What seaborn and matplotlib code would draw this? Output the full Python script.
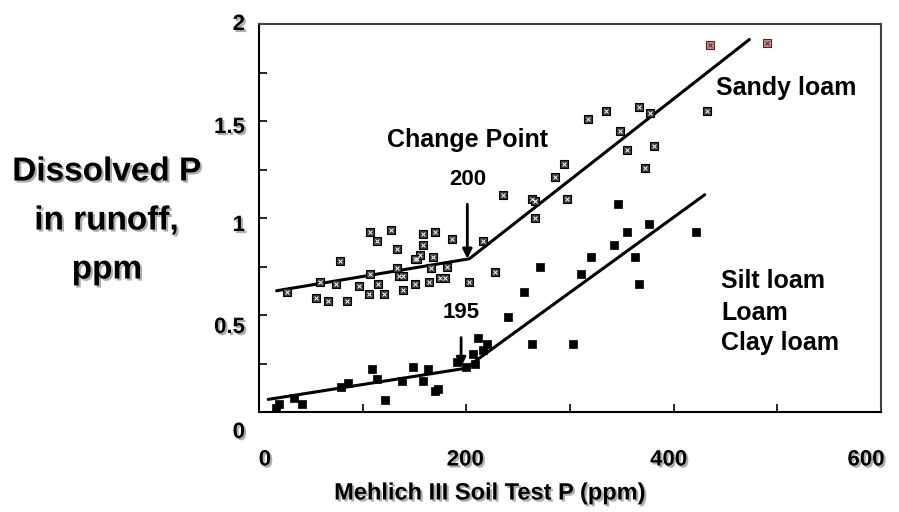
import matplotlib
matplotlib.use("Agg")
import matplotlib.pyplot as plt
import matplotlib.patheffects as pe
import matplotlib.transforms as mtransforms
import seaborn as sns
import pandas as pd

# Sandy loam soils (boxed-x markers)
sandy_x = [27, 55, 67, 85, 59, 74, 78, 97, 106, 107, 115, 121, 107, 114, 127,
           133, 133, 135, 139, 139, 151, 152, 158, 170, 186, 158, 155, 151, 168,
           166, 181, 164, 175, 179, 203, 216, 228, 235, 263, 266, 266, 286, 294,
           297, 317, 335, 348, 355, 367, 372, 377, 381, 432]
sandy_y = [0.62, 0.59, 0.57, 0.57, 0.67, 0.66, 0.78, 0.65, 0.61, 0.71, 0.66, 0.61, 0.93, 0.88, 0.94,
           0.84, 0.74, 0.70, 0.70, 0.63, 0.66, 0.79, 0.92, 0.93, 0.89, 0.86, 0.81, 0.79, 0.80,
           0.74, 0.75, 0.67, 0.69, 0.69, 0.67, 0.88, 0.72, 1.12, 1.10, 1.09, 1.00, 1.21, 1.28,
           1.10, 1.51, 1.55, 1.45, 1.35, 1.57, 1.26, 1.54, 1.37, 1.55]
# two highlighted sandy loam points
hi_x = [435, 490]
hi_y = [1.89, 1.90]

# Silt loam / loam / clay loam soils (filled squares)
silt_x = [16, 19, 34, 42, 79, 86, 109, 114, 122, 138, 149, 163, 158, 170, 173,
          191, 200, 206, 208, 211, 216, 220, 240, 263, 256, 271, 303, 311, 320,
          342, 346, 355, 363, 367, 376, 422]
silt_y = [0.02, 0.04, 0.07, 0.04, 0.13, 0.15, 0.22, 0.17, 0.06, 0.16, 0.23, 0.22, 0.16, 0.11, 0.12,
          0.26, 0.23, 0.30, 0.25, 0.38, 0.32, 0.35, 0.49, 0.35, 0.62, 0.75, 0.35, 0.71, 0.80,
          0.86, 1.07, 0.93, 0.80, 0.66, 0.97, 0.93]

# split-line fits with change points
sandy_fit_x = [17, 203, 473]
sandy_fit_y = [0.625, 0.79, 1.92]
silt_fit_x = [9, 199, 430]
silt_fit_y = [0.065, 0.225, 1.12]

sns.set_style("white")
plt.rcParams["font.family"] = ["Liberation Sans", "DejaVu Sans"]
plt.rcParams["font.weight"] = "bold"
plt.rcParams["text.color"] = "black"
plt.rcParams["xtick.color"] = "black"
plt.rcParams["ytick.color"] = "black"

shadow = [pe.withSimplePatchShadow(offset=(1.5, -1.5), shadow_rgbFace="#999999", alpha=0.8)]

fig = plt.figure(figsize=(8.99, 5.12), dpi=100)
ax = fig.add_axes([0.288, 0.1953, 0.692, 0.7578])

sandy = pd.DataFrame({"x": sandy_x, "y": sandy_y})
hi = pd.DataFrame({"x": hi_x, "y": hi_y})
silt = pd.DataFrame({"x": silt_x, "y": silt_y})

sns.lineplot(x=sandy_fit_x, y=sandy_fit_y, ax=ax, color="black", lw=2.2, sort=False, estimator=None)
sns.lineplot(x=silt_fit_x, y=silt_fit_y, ax=ax, color="black", lw=2.2, sort=False, estimator=None)

sns.scatterplot(data=sandy, x="x", y="y", ax=ax, marker="s", s=32, color="#3a3a3a",
                edgecolor="black", linewidth=0.8, zorder=3)
sns.scatterplot(data=sandy, x="x", y="y", ax=ax, marker="x", s=8, color="white",
                linewidth=0.7, zorder=4)
sns.scatterplot(data=hi, x="x", y="y", ax=ax, marker="s", s=32, color="#e08080",
                edgecolor="#333333", linewidth=0.8, zorder=3)
sns.scatterplot(data=hi, x="x", y="y", ax=ax, marker="x", s=8, color="#333333",
                linewidth=0.7, zorder=4)
sns.scatterplot(data=silt, x="x", y="y", ax=ax, marker="s", s=36, color="black",
                edgecolor="black", linewidth=0.5, zorder=3)

ax.set_xlim(0, 600)
ax.set_ylim(0, 2)
ax.set_xticks([0, 100, 200, 300, 400, 500, 600])
ax.set_xticklabels(["0", "", "200", "", "400", "", "600"])
ax.set_yticks([0, 0.25, 0.5, 0.75, 1, 1.25, 1.5, 1.75, 2])
ax.set_yticklabels(["0", "", "0.5", "", "1", "", "1.5", "", "2"])
ax.tick_params(axis="both", direction="in", length=6, width=1.2, labelsize=16,
               bottom=True, left=True, colors="black")
ax.tick_params(axis="x", pad=27)
ax.tick_params(axis="y", pad=10)
# the original labels sit a little off their ticks
y_label_shift = [-18, 0, -10, 0, -5, 0, -4, 0, 2]
for lab, dy in zip(ax.get_yticklabels(), y_label_shift):
    lab.set_transform(lab.get_transform() +
                      mtransforms.ScaledTranslation(0, dy / 100, fig.dpi_scale_trans))
x_label_shift = [6, 0, -1, 0, -5, 0, -15]
for lab, dx in zip(ax.get_xticklabels(), x_label_shift):
    lab.set_transform(lab.get_transform() +
                      mtransforms.ScaledTranslation(dx / 100, 0, fig.dpi_scale_trans))
for lab in ax.get_xticklabels() + ax.get_yticklabels():
    lab.set_fontweight("bold")
    lab.set_path_effects(shadow)

for side in ["left", "bottom"]:
    ax.spines[side].set_color("black")
    ax.spines[side].set_linewidth(1.5)
for side in ["top", "right"]:
    ax.spines[side].set_color("#404040")
    ax.spines[side].set_linewidth(1.5)

ax.set_xlabel("")
ax.set_ylabel("")
fig.text(490 / 899, 1 - 493 / 512, "Mehlich III Soil Test P (ppm)", fontsize=17,
         fontweight="bold", ha="center", va="center", path_effects=shadow)
fig.text(0.119, 1 - 221 / 512, "Dissolved P\nin runoff,\nppm", fontsize=24, fontweight="bold",
         ha="center", va="center", linespacing=1.75, path_effects=shadow)

ax.text(201, 1.40, "Change Point", fontsize=18, fontweight="bold", ha="center", va="center")
ax.annotate("200", xy=(201, 0.79), xytext=(201, 1.20), fontsize=16, fontweight="bold",
            ha="center", va="center",
            arrowprops=dict(arrowstyle="-|>", color="black", lw=2, shrinkA=8, shrinkB=0,
                            mutation_scale=14))
ax.annotate("195", xy=(195, 0.232), xytext=(195, 0.512), fontsize=16, fontweight="bold",
            ha="center", va="center",
            arrowprops=dict(arrowstyle="-|>", color="black", lw=2, shrinkA=8, shrinkB=0,
                            mutation_scale=14))
ax.text(441, 1.668, "Sandy loam", fontsize=18, fontweight="bold", ha="left", va="center")
ax.text(446, 0.675, "Silt loam", fontsize=18, fontweight="bold", ha="left", va="center")
ax.text(446, 0.510, "Loam", fontsize=18, fontweight="bold", ha="left", va="center")
ax.text(446, 0.356, "Clay loam", fontsize=18, fontweight="bold", ha="left", va="center")

fig.savefig("out.png", dpi=100)
